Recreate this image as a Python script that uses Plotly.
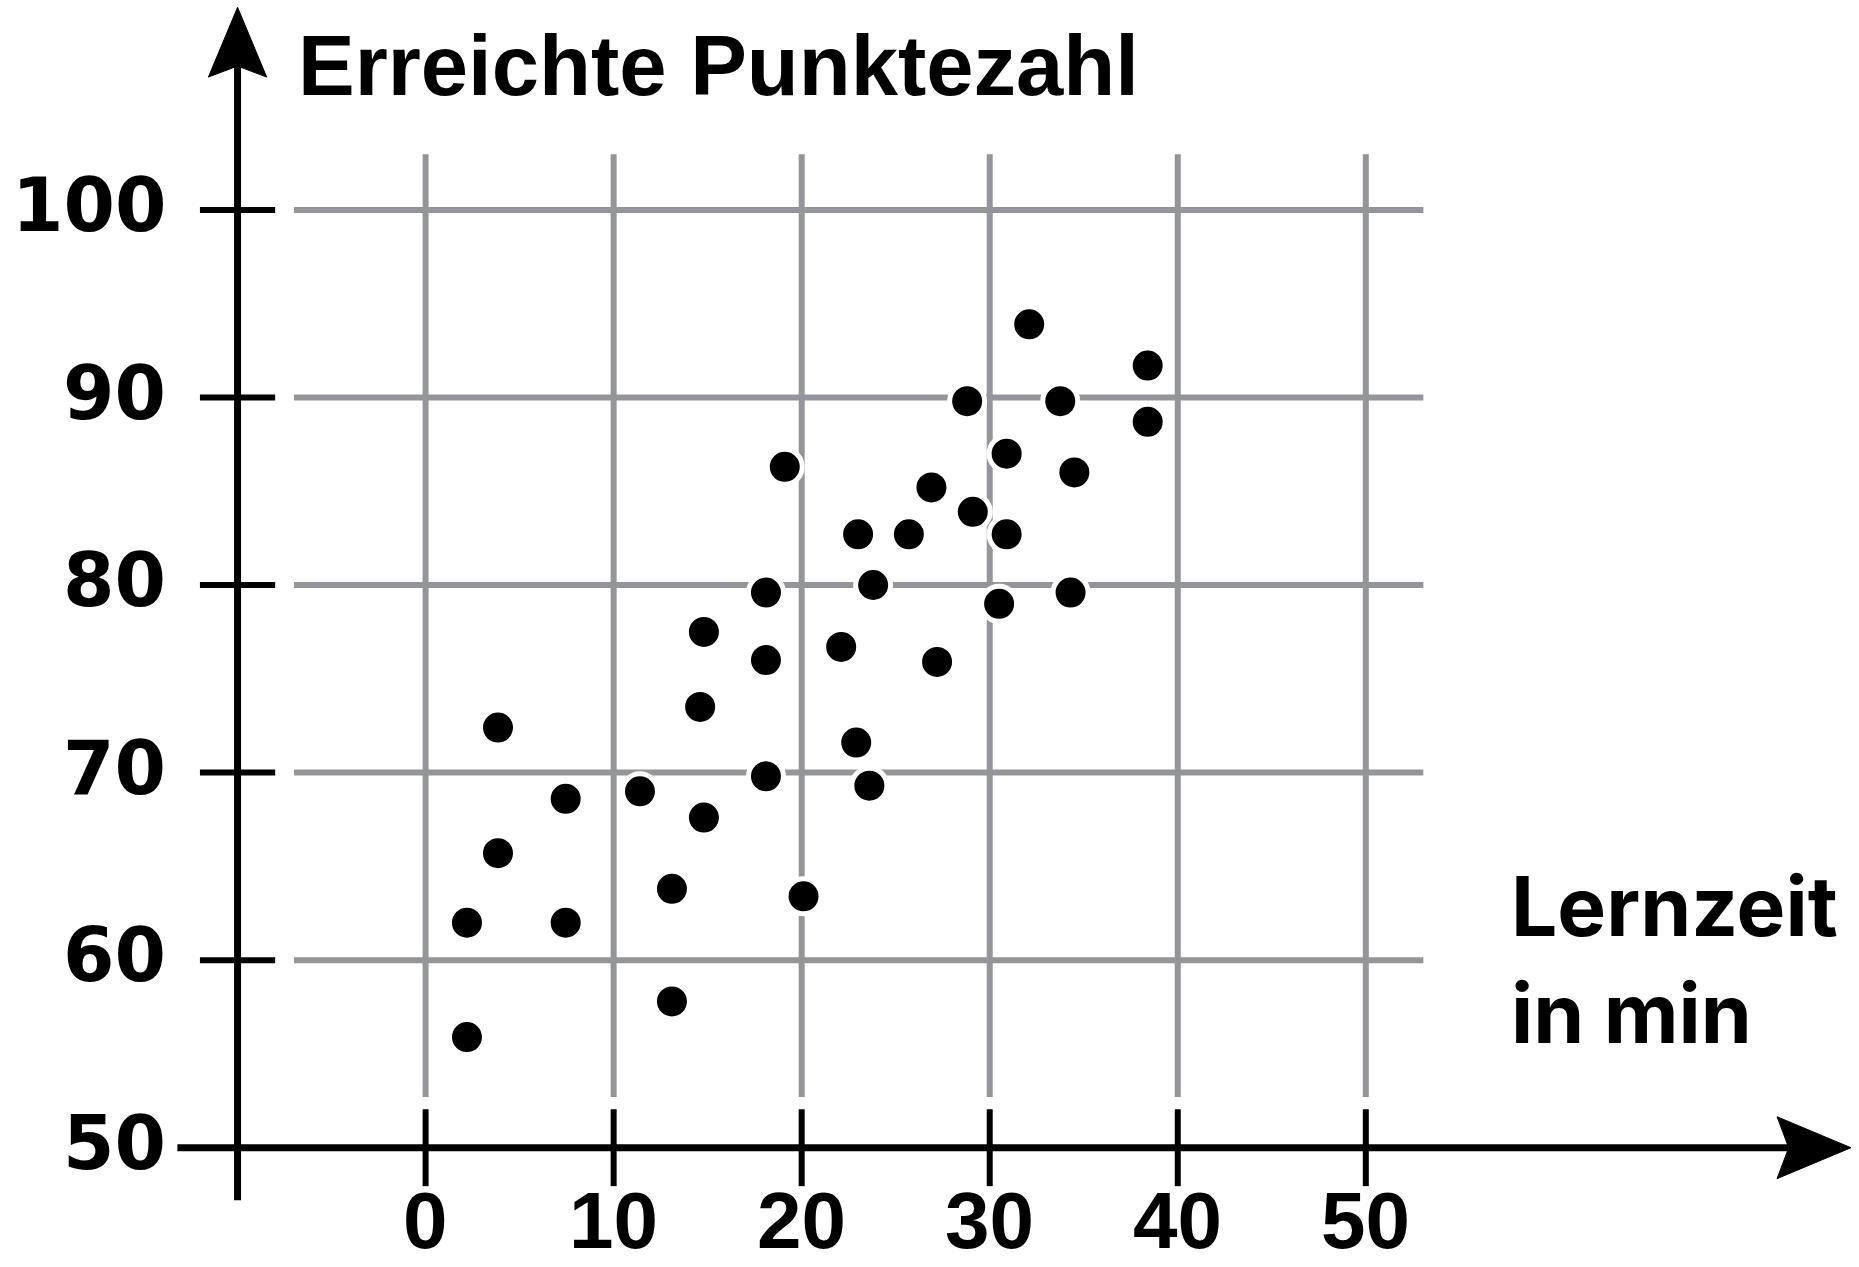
import plotly.graph_objects as go

# ---- data ----
lernzeit = [2.2, 2.2, 3.85, 3.85, 7.45, 7.45, 11.4, 13.1, 13.1, 14.8, 14.6, 14.8,
            18.1, 18.1, 18.1, 19.1, 20.1, 22.1, 22.9, 23.6, 23.0, 23.8, 25.7, 26.9,
            27.2, 28.8, 29.1, 30.9, 30.9, 30.5, 32.1, 33.75, 34.5, 34.3, 38.4, 38.4]
punkte = [55.9, 62.0, 65.7, 72.4, 68.6, 62.0, 69.0, 63.8, 57.8, 67.6, 73.5, 77.5,
          76.0, 79.6, 69.8, 86.3, 63.4, 76.7, 71.6, 69.3, 82.7, 80.0, 82.7, 85.2,
          75.9, 89.8, 83.9, 87.0, 82.7, 79.0, 93.9, 89.8, 86.0, 79.6, 91.7, 88.7]

x_ticks = [0, 10, 20, 30, 40, 50]
x_tick_labels = ["0", "10", "20", "30", "40", "50"]
y_ticks = [60, 70, 80, 90, 100]
y_label_vals = [50, 60, 70, 80, 90, 100]
y_tick_labels = ["50", "60", "70", "80", "90", "100"]

y_title = "Erreichte Punktezahl"
x_title = "Lernzeit<br>in min"

# ---- layout constants ----
X_RANGE = [-22.633, 76.228]
Y_RANGE = [43.64, 111.19]
Y_AXIS_X = -10      # x position of the vertical axis
X_AXIS_Y = 50       # y position of the horizontal axis
GRID_X_EXT = [-7.0, 53.06]
GRID_Y_EXT = [52.7, 102.97]
GRAY = "#939598"
BLACK = "#000000"

shapes = []
# grid
for xv in x_ticks:
    shapes.append(dict(type="line", xref="x", yref="y", x0=xv, x1=xv,
                       y0=GRID_Y_EXT[0], y1=GRID_Y_EXT[1],
                       line=dict(color=GRAY, width=6), layer="below"))
for yv in y_ticks:
    shapes.append(dict(type="line", xref="x", yref="y", x0=GRID_X_EXT[0], x1=GRID_X_EXT[1],
                       y0=yv, y1=yv, line=dict(color=GRAY, width=6), layer="below"))

# axes
y_tip, y_base, y_notch, y_half = 110.8, 107.08, 107.67, 1.55
x_tip, x_base, x_notch, x_half = 75.8, 71.87, 72.49, 1.65
shapes.append(dict(type="line", xref="x", yref="y", x0=Y_AXIS_X, x1=Y_AXIS_X,
                   y0=47.2, y1=y_notch, line=dict(color=BLACK, width=7)))
shapes.append(dict(type="line", xref="x", yref="y", x0=-13.2, x1=x_notch,
                   y0=X_AXIS_Y, y1=X_AXIS_Y, line=dict(color=BLACK, width=7)))
shapes.append(dict(type="path", xref="x", yref="y",
                   path=f"M {Y_AXIS_X} {y_tip} L {Y_AXIS_X - y_half} {y_base} L {Y_AXIS_X} {y_notch} "
                        f"L {Y_AXIS_X + y_half} {y_base} Z",
                   fillcolor=BLACK, line=dict(color=BLACK, width=1)))
shapes.append(dict(type="path", xref="x", yref="y",
                   path=f"M {x_tip} {X_AXIS_Y} L {x_base} {X_AXIS_Y + x_half} L {x_notch} {X_AXIS_Y} "
                        f"L {x_base} {X_AXIS_Y - x_half} Z",
                   fillcolor=BLACK, line=dict(color=BLACK, width=1)))
# tick marks
for yv in y_ticks:
    shapes.append(dict(type="line", xref="x", yref="y", x0=Y_AXIS_X - 2, x1=Y_AXIS_X + 2,
                       y0=yv, y1=yv, line=dict(color=BLACK, width=6)))
for xv in x_ticks:
    shapes.append(dict(type="line", xref="x", yref="y", x0=xv, x1=xv,
                       y0=X_AXIS_Y - 2.05, y1=X_AXIS_Y + 2.05, line=dict(color=BLACK, width=6)))

annotations = []
for v, t in zip(y_label_vals, y_tick_labels):
    annotations.append(dict(x=-13.7, y=v + 0.25, xref="x", yref="y", text=t, showarrow=False,
                            xanchor="right", yanchor="middle",
                            font=dict(family="DejaVu Sans", size=74, color=BLACK, weight="bold")))
for v, t in zip(x_ticks, x_tick_labels):
    annotations.append(dict(x=v, y=43.66, xref="x", yref="y", text=t, showarrow=False,
                            xanchor="center", yanchor="bottom",
                            font=dict(family="Liberation Sans", size=80, color=BLACK, weight="bold")))
annotations.append(dict(x=-6.9, y=107.71, xref="x", yref="y", text=y_title, showarrow=False,
                        xanchor="left", yanchor="middle",
                        font=dict(family="Liberation Sans", size=85, color=BLACK, weight="bold")))
annotations.append(dict(x=57.6, y=60.0, xref="x", yref="y", text=x_title, showarrow=False,
                        xanchor="left", yanchor="middle", align="left",
                        font=dict(family="Inter", size=82, color=BLACK, weight="bold")))

fig = go.Figure()
fig.add_trace(go.Scatter(x=lernzeit, y=punkte, mode="markers",
                         marker=dict(size=35, color=BLACK, line=dict(color="white", width=5)),
                         hoverinfo="x+y"))

fig.update_layout(
    width=1859, height=1267,
    margin=dict(l=0, r=0, t=0, b=0),
    paper_bgcolor="white", plot_bgcolor="white",
    showlegend=False,
    xaxis=dict(range=X_RANGE, visible=False, fixedrange=True),
    yaxis=dict(range=Y_RANGE, visible=False, fixedrange=True),
    shapes=shapes, annotations=annotations,
)

fig.write_html("out.html", config={"displayModeBar": False},
               post_script="document.body.style.margin='0';")
